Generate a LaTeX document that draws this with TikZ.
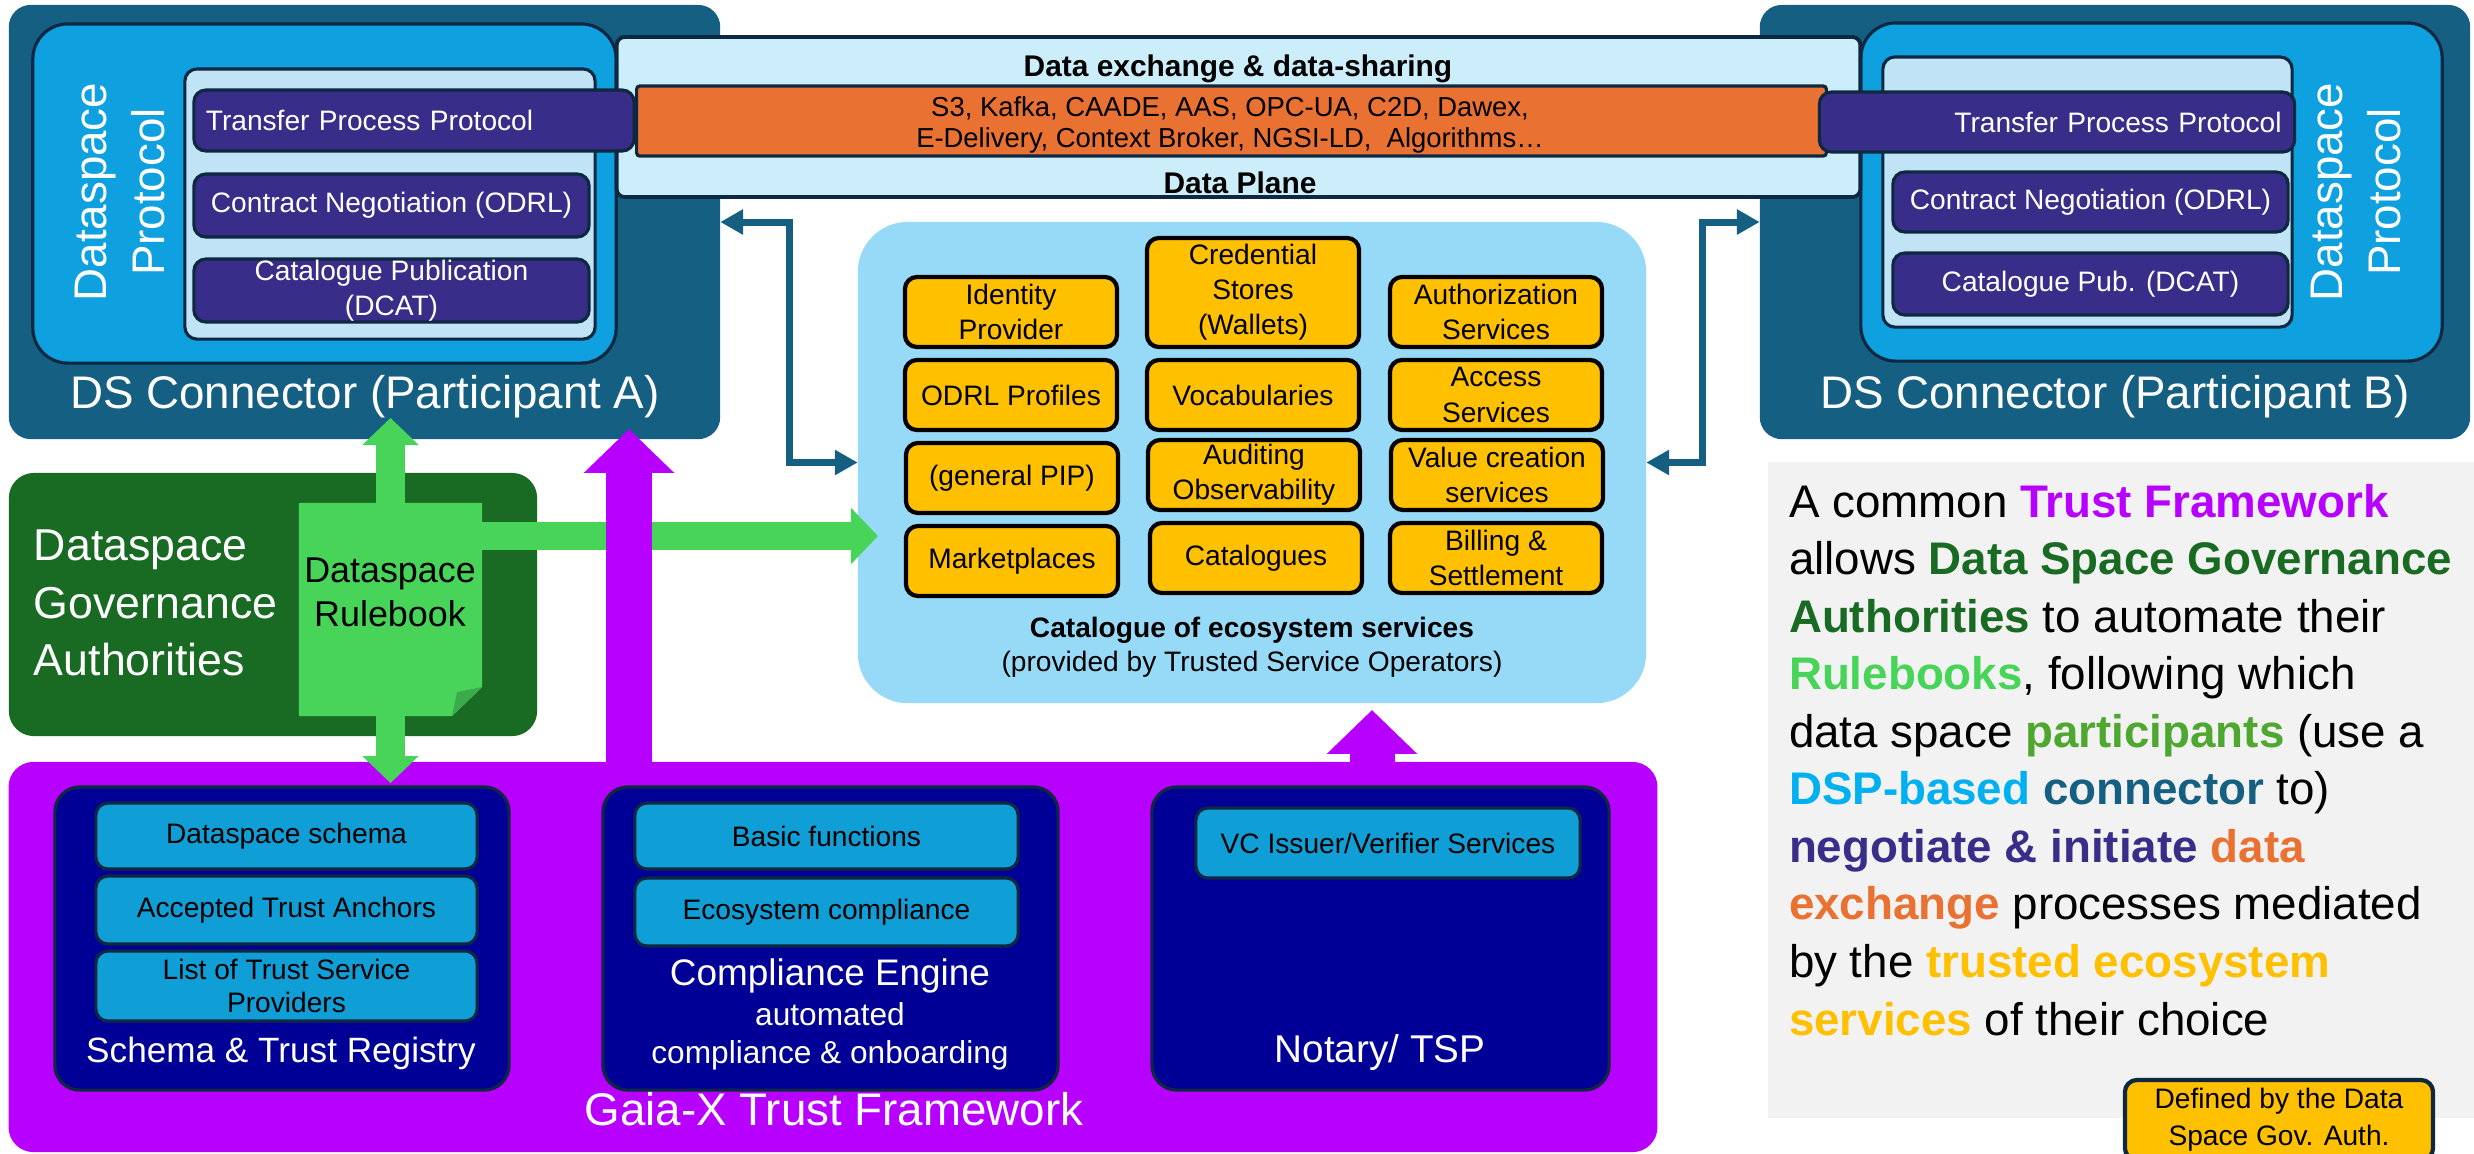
\documentclass[tikz,border=0pt]{standalone}
\usepackage{fontspec}
\setmainfont{Liberation Sans}
\usetikzlibrary{arrows.meta}
\definecolor{dsteal}{HTML}{156082}
\definecolor{dsblue}{HTML}{0FA0E0}
\definecolor{dslightc}{HTML}{C0E4F5}
\definecolor{dpfill}{HTML}{CCEEFB}
\definecolor{edgec}{HTML}{0E2841}
\definecolor{navyp}{HTML}{382E89}
\definecolor{orng}{HTML}{E97132}
\definecolor{catblue}{HTML}{97DAF7}
\definecolor{ylw}{HTML}{FFC000}
\definecolor{gvgreen}{HTML}{196B24}
\definecolor{rbgreen}{HTML}{47D459}
\definecolor{foldgreen}{HTML}{3BAA4B}
\definecolor{gxpurple}{HTML}{B700FF}
\definecolor{gxnavy}{HTML}{000096}
\definecolor{gxcyan}{HTML}{0F9ED5}
\definecolor{pgrey}{HTML}{F2F2F2}
\definecolor{ptgreen}{HTML}{4EA72E}
\definecolor{dspcyan}{HTML}{00B0F0}
\newcommand{\fs}[2]{\fontsize{#1}{#2}\selectfont}
\newcommand{\emc}[2]{{\color{#1}\bfseries #2}}
\begin{document}
\begin{tikzpicture}[x=0.01cm,y=-0.01cm,
  every node/.style={inner sep=0pt, outer sep=0pt},
  dsouter/.style={rectangle, fill=dsteal, rounded corners=0.22cm},
  dsbright/.style={rectangle, fill=dsblue, draw=edgec, line width=0.9pt, rounded corners=0.35cm},
  lightbox/.style={rectangle, fill=dslightc, draw=edgec, line width=0.9pt, rounded corners=0.12cm},
  navybox/.style={rectangle, fill=navyp, draw=edgec, line width=0.9pt, rounded corners=0.12cm, text=white, align=center, font=\fs{8}{10}},
  ybox/.style={rectangle, fill=ylw, draw=black, line width=1.2pt, rounded corners=0.12cm, minimum width=2.12cm, minimum height=0.70cm, align=center, font=\fs{8}{10}},
  cbox/.style={rectangle, fill=gxcyan, draw=edgec, line width=0.9pt, rounded corners=0.12cm, align=center, font=\fs{8}{9.6}},
  gxbox/.style={rectangle, fill=gxnavy, draw=edgec, line width=0.9pt, rounded corners=0.25cm, minimum height=3.03cm},
  wlbl/.style={text=white, anchor=base},
  ptline/.style={anchor=base west, font=\fs{13}{16}},
  garrow/.style={draw=rbgreen, line width=8pt, -{Triangle[length=7.7pt,width=15.6pt]}},
  parrow/.style={draw=gxpurple, line width=12.8pt, -{Triangle[length=12.5pt,width=25pt]}},
  tarrow/.style={draw=dsteal, line width=2pt, {Triangle[length=6.5pt,width=6.8pt]}-{Triangle[length=6.5pt,width=6.8pt]}}
]
\useasboundingbox (0,0) rectangle (2474,1153);

% ---------- DS connectors ----------
\node[dsouter, minimum width=7.11cm, minimum height=4.34cm] (dsA) at (364.5,222) {};
\node[dsouter, minimum width=7.10cm, minimum height=4.34cm] (dsB) at (2115,222) {};
\node[wlbl, font=\fs{13}{15}] (dsAl) at (365,408) {DS Connector (Participant A)};
\node[wlbl, font=\fs{13}{15}] (dsBl) at (2115,408) {DS Connector (Participant B)};
\node[dsbright, minimum width=5.83cm, minimum height=3.39cm] (dspA) at (324.5,193.5) {};
\node[dsbright, minimum width=5.81cm, minimum height=3.38cm] (dspB) at (2151.5,192) {};
\node[lightbox, minimum width=4.10cm, minimum height=2.70cm] (inA) at (390,204) {};
\node[lightbox, minimum width=4.09cm, minimum height=2.70cm] (inB) at (2087.5,192) {};
\node[rotate=90, text=white, align=center, font=\fs{13}{16.5}] (dspAt) at (120,192) {Dataspace\\Protocol};
\node[rotate=90, text=white, align=center, font=\fs{13}{16.5}] (dspBt) at (2356,192) {Dataspace\\Protocol};

% ---------- Data plane ----------
\node[rectangle, draw=edgec, line width=1.1pt, fill=dpfill, rounded corners=0.08cm, minimum width=12.43cm, minimum height=1.60cm] (dp) at (1238.5,117) {};
\node[rectangle, draw=edgec, line width=0.9pt, fill=orng, rounded corners=0.03cm, minimum width=11.89cm, minimum height=0.70cm] (orb) at (1231.5,121) {};
\node[anchor=base, font=\bfseries\fs{8.5}{10}] (dpt) at (1238,76) {Data exchange \& data-sharing};
\node[anchor=base, font=\fs{7.8}{9}] (or1) at (1230,116) {S3, Kafka, CAADE, AAS, OPC-UA, C2D, Dawex,};
\node[anchor=base, font=\fs{7.8}{9}] (or2) at (1230,147) {E-Delivery, Context Broker, NGSI-LD,~ Algorithms…};
\node[anchor=base, font=\bfseries\fs{8.5}{10}] (dpb) at (1240,193) {Data Plane};

% ---------- DSP boxes ----------
\node[navybox, text width=4.16cm, align=left, inner xsep=0.12cm, minimum height=0.61cm] (tppA) at (414,120.5) {Transfer Process Protocol};
\node[navybox, minimum width=3.95cm, minimum height=0.63cm] (cnA) at (391.5,205.5) {Contract Negotiation (ODRL)};
\node[navybox, minimum width=3.95cm, minimum height=0.63cm] (cpA) at (391.5,290.5) {Catalogue Publication\\(DCAT)};
\node[navybox, text width=4.49cm, align=right, inner xsep=0.13cm, minimum height=0.60cm] (tppB) at (2057,122) {Transfer Process Protocol};
\node[navybox, minimum width=3.95cm, minimum height=0.60cm] (cnB) at (2090.5,202) {Contract Negotiation (ODRL)};
\node[navybox, minimum width=3.95cm, minimum height=0.62cm] (cpB) at (2090.5,284) {Catalogue Pub. (DCAT)};

% ---------- Catalogue of ecosystem services ----------
\node[rectangle, fill=catblue, rounded corners=0.5cm, minimum width=7.88cm, minimum height=4.81cm] (cat) at (1252,462.5) {};
\node[ybox] (idp) at (1011,312) {Identity\\Provider};
\node[ybox, minimum height=1.09cm] (cred) at (1253,292.5) {Credential\\Stores\\(Wallets)};
\node[ybox] (authz) at (1496,312) {Authorization\\Services};
\node[ybox] (odrl) at (1011,395) {ODRL Profiles};
\node[ybox] (vocab) at (1253,395) {Vocabularies};
\node[ybox] (access) at (1496,395) {Access\\Services};
\node[ybox] (pip) at (1012,478) {(general PIP)};
\node[ybox] (audit) at (1254,475) {Auditing\\Observability};
\node[ybox] (value) at (1497,475) {Value creation\\services};
\node[ybox] (market) at (1012,561) {Marketplaces};
\node[ybox] (catl) at (1256,558) {Catalogues};
\node[ybox] (bill) at (1496,558) {Billing \&\\Settlement};
\node[anchor=base, font=\bfseries\fs{8}{10}] (catt) at (1252,637) {Catalogue of ecosystem services};
\node[anchor=base, font=\fs{8}{10}] (cats) at (1252,671) {(provided by Trusted Service Operators)};

% ---------- teal elbow arrows ----------
\draw[tarrow] (dsA.east) -- ++(69,0) |- (cat.west);
\draw[tarrow] (dsB.west) -- ++(-57,0) |- (cat.east);

% ---------- Gaia-X ----------
\node[rectangle, fill=gxpurple, rounded corners=0.25cm, minimum width=16.48cm, minimum height=3.90cm] (gaia) at (833,957) {};
\node[gxbox, minimum width=4.54cm] (schema) at (282,938.5) {};
\node[gxbox, minimum width=4.55cm] (comp) at (830.5,938.5) {};
\node[gxbox, minimum width=4.57cm] (notary) at (1380.5,938.5) {};
\node[cbox, minimum width=3.81cm, minimum height=0.66cm] (c1) at (286.5,836) {Dataspace schema};
\node[cbox, minimum width=3.81cm, minimum height=0.68cm] (c2) at (286.5,910) {Accepted Trust Anchors};
\node[cbox, minimum width=3.81cm, minimum height=0.70cm] (c3) at (286.5,986) {List of Trust Service\\Providers};
\node[cbox, minimum width=3.83cm, minimum height=0.66cm] (c4) at (826.5,836) {Basic functions};
\node[cbox, minimum width=3.83cm, minimum height=0.68cm] (c5) at (826.5,912) {Ecosystem compliance};
\node[cbox, minimum width=3.84cm, minimum height=0.70cm] (c6) at (1388,843) {VC Issuer/Verifier Services};
\node[wlbl, font=\fs{10}{12}] (schl) at (281,1062) {Schema \& Trust Registry};
\node[wlbl, font=\fs{10.5}{12}] (compl) at (830,985) {Compliance Engine};
\node[wlbl, font=\fs{9}{11}] (compl2) at (830,1025) {automated};
\node[wlbl, font=\fs{9}{11}] (compl3) at (830,1063) {compliance \& onboarding};
\node[wlbl, font=\fs{11}{13}] (notl) at (1380,1062) {Notary/ TSP};
\node[wlbl, font=\fs{13}{15}] (gaial) at (834,1125) {Gaia-X Trust Framework};

% ---------- Governance ----------
\node[rectangle, fill=gvgreen, rounded corners=0.25cm, minimum width=5.28cm, minimum height=2.63cm] (gov) at (273,604.5) {};
\node[anchor=west, text=white, align=left, font=\fs{12.7}{16.4}] (govt) at (34,603) {Dataspace\\Governance\\Authorities};
\node[minimum width=1.83cm, minimum height=2.13cm] (rb) at (390.5,609.5) {};
\fill[rbgreen] (rb.north west) -- (rb.north east) -- ([yshift=0.29cm]rb.south east) -- ([xshift=-0.30cm]rb.south east) -- (rb.south west) -- cycle;
\fill[foldgreen] ([yshift=0.29cm]rb.south east) -- ([xshift=-0.25cm,yshift=0.24cm]rb.south east) -- ([xshift=-0.30cm]rb.south east) -- cycle;
\node[align=center, font=\fs{10.2}{12.5}] (rbt) at (390,592.5) {Dataspace\\Rulebook};

% ---------- green arrows ----------
\coordinate (gr) at (878,536);
\draw[garrow] (rb.north) -- ++(0,-85);
\draw[garrow] (rb.south) -- ++(0,67);
\draw[garrow] (rb.east |- gr) -- (gr);

% ---------- purple arrows ----------
\coordinate (pa) at (629,429);
\coordinate (pc) at (1372,710);
\draw[parrow] (gaia.north -| pa) -- (pa);
\draw[parrow] (gaia.north -| pc) -- (pc);

% ---------- right panel ----------
\node[rectangle, fill=pgrey, minimum width=7.06cm, minimum height=6.56cm] (panel) at (2121,790) {};
\node[ptline] (pt1) at (1789,517) {A common \emc{gxpurple}{Trust Framework}};
\node[ptline] (pt2) at (1789,574.6) {allows \emc{gvgreen}{Data Space Governance}};
\node[ptline] (pt3) at (1789,632.1) {\emc{gvgreen}{Authorities} to automate their};
\node[ptline] (pt4) at (1789,689.7) {\emc{rbgreen}{Rulebooks}, following which};
\node[ptline] (pt5) at (1789,747.2) {data space \emc{ptgreen}{participants} (use a};
\node[ptline] (pt6) at (1789,804.8) {\emc{dspcyan}{DSP-based} \emc{dsteal}{connector} to)};
\node[ptline] (pt7) at (1789,862.3) {\emc{navyp}{negotiate \& initiate} \emc{orng}{data}};
\node[ptline] (pt8) at (1789,919.9) {\emc{orng}{exchange} processes mediated};
\node[ptline] (pt9) at (1789,977.4) {by the \emc{ylw}{trusted ecosystem}};
\node[ptline] (pt10) at (1789,1035) {\emc{ylw}{services} of their choice};
\node[rectangle, draw=edgec, fill=ylw, line width=1.2pt, rounded corners=0.12cm, minimum width=3.08cm, minimum height=0.80cm, align=center, font=\fs{8}{10.5}] (defd) at (2279,1120) {Defined by the Data\\Space Gov. Auth.};
\end{tikzpicture}
\end{document}
